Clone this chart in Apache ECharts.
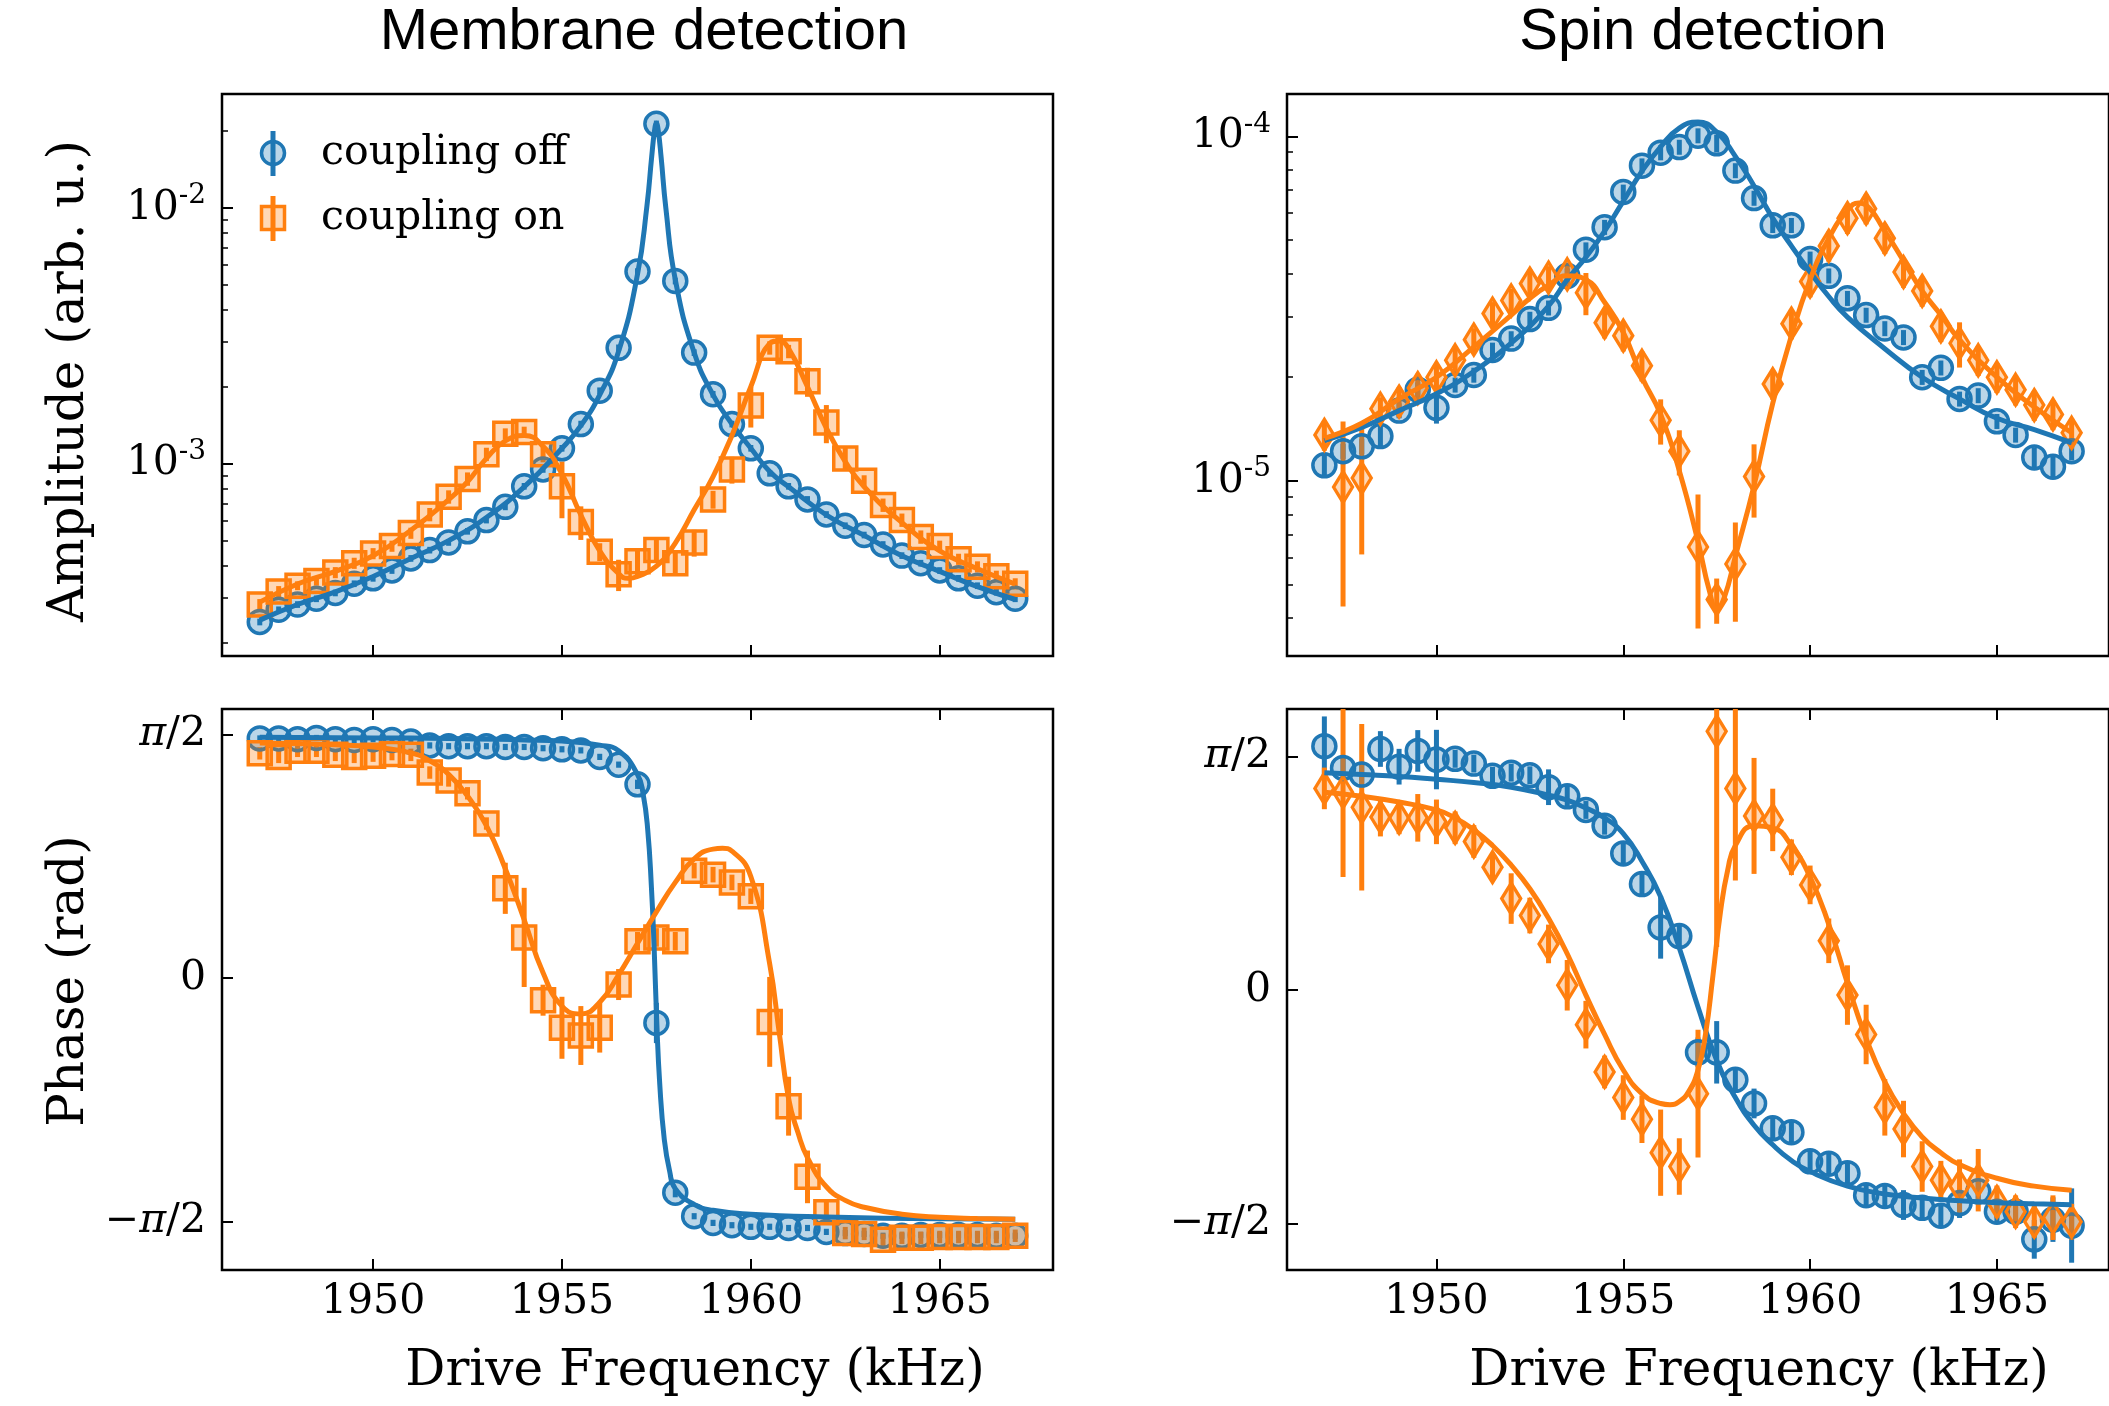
<!DOCTYPE html>
<html>
<head>
<meta charset="utf-8">
<script src="https://cdn.jsdelivr.net/npm/echarts@6/dist/echarts.min.js"></script>
<style>
html, body { margin: 0; padding: 0; background: #fff; }
#chart { width: 2109px; height: 1406px; }
</style>
</head>
<body>
<div id="chart"></div>
<script>
// drive frequencies (kHz), same for every data set
var freq = [1947, 1947.5, 1948, 1948.5, 1949, 1949.5, 1950, 1950.5, 1951, 1951.5,
    1952, 1952.5, 1953, 1953.5, 1954, 1954.5, 1955, 1955.5, 1956, 1956.5,
    1957, 1957.5, 1958, 1958.5, 1959, 1959.5, 1960, 1960.5, 1961, 1961.5,
    1962, 1962.5, 1963, 1963.5, 1964, 1964.5, 1965, 1965.5, 1966, 1966.5, 1967];
var xTicks = [1950, 1955, 1960, 1965];

// membrane detection, amplitude (arb. u.) + relative errors
var memAmpOff = [2.41e-4, 2.69e-4, 2.82e-4, 2.97e-4, 3.13e-4, 3.40e-4, 3.57e-4, 3.83e-4, 4.27e-4, 4.60e-4,
    4.93e-4, 5.45e-4, 6.03e-4, 6.79e-4, 8.17e-4, 9.51e-4, 1.15e-3, 1.43e-3, 1.93e-3, 2.84e-3,
    5.64e-3, 2.13e-2, 5.18e-3, 2.72e-3, 1.87e-3, 1.43e-3, 1.15e-3, 9.18e-4, 8.17e-4, 7.26e-4,
    6.34e-4, 5.73e-4, 5.27e-4, 4.84e-4, 4.38e-4, 4.09e-4, 3.83e-4, 3.57e-4, 3.34e-4, 3.15e-4, 2.97e-4];
var memAmpOffErr = [0.03, 0.03, 0.03, 0.03, 0.03, 0.03, 0.03, 0.03, 0.03, 0.03,
    0.03, 0.03, 0.03, 0.03, 0.03, 0.03, 0.03, 0.03, 0.03, 0.03,
    0.03, 0.03, 0.03, 0.03, 0.03, 0.03, 0.03, 0.03, 0.03, 0.03,
    0.03, 0.03, 0.03, 0.03, 0.03, 0.03, 0.03, 0.03, 0.03, 0.03, 0.03];
var memAmpOn = [2.82e-4, 3.17e-4, 3.34e-4, 3.48e-4, 3.76e-4, 4.09e-4, 4.46e-4, 4.77e-4, 5.36e-4, 6.34e-4,
    7.43e-4, 8.73e-4, 1.09e-3, 1.31e-3, 1.33e-3, 1.09e-3, 8.17e-4, 5.93e-4, 4.53e-4, 3.70e-4,
    4.16e-4, 4.60e-4, 4.09e-4, 4.93e-4, 7.26e-4, 9.51e-4, 1.69e-3, 2.84e-3, 2.75e-3, 2.10e-3,
    1.45e-3, 1.05e-3, 8.59e-4, 6.90e-4, 6.03e-4, 5.18e-4, 4.77e-4, 4.24e-4, 3.96e-4, 3.64e-4, 3.40e-4];
var memAmpOnErr = [0.05, 0.05, 0.04, 0.04, 0.05, 0.05, 0.05, 0.05, 0.05, 0.06,
    0.06, 0.06, 0.06, 0.05, 0.05, 0.07, 0.25, 0.15, 0.08, 0.14,
    0.12, 0.1, 0.1, 0.12, 0.08, 0.12, 0.18, 0.06, 0.06, 0.13,
    0.17, 0.1, 0.05, 0.06, 0.06, 0.06, 0.05, 0.05, 0.05, 0.05, 0.05];

// membrane detection, phase (rad) + errors (rad)
var memPhaseOff = [1.545, 1.545, 1.540, 1.548, 1.540, 1.535, 1.540, 1.535, 1.525, 1.500,
    1.495, 1.495, 1.495, 1.490, 1.490, 1.482, 1.475, 1.468, 1.426, 1.376,
    1.249, -0.291, -1.386, -1.538, -1.581, -1.596, -1.606, -1.606, -1.614, -1.614,
    -1.639, -1.647, -1.652, -1.664, -1.664, -1.659, -1.659, -1.659, -1.659, -1.664, -1.664];
var memPhaseOffErr = [0.02, 0.02, 0.02, 0.02, 0.02, 0.02, 0.02, 0.02, 0.02, 0.02,
    0.02, 0.02, 0.02, 0.02, 0.02, 0.02, 0.02, 0.02, 0.02, 0.02,
    0.03, 0.13, 0.03, 0.02, 0.02, 0.02, 0.02, 0.02, 0.02, 0.02,
    0.02, 0.02, 0.02, 0.02, 0.02, 0.02, 0.02, 0.02, 0.02, 0.02, 0.02];
var memPhaseOn = [1.449, 1.426, 1.465, 1.465, 1.439, 1.426, 1.434, 1.444, 1.439, 1.325,
    1.274, 1.191, 0.996, 0.578, 0.261, -0.144, -0.322, -0.372, -0.322, -0.043,
    0.236, 0.261, 0.236, 0.692, 0.666, 0.616, 0.527, -0.284, -0.828, -1.284,
    -1.512, -1.647, -1.652, -1.690, -1.677, -1.677, -1.672, -1.672, -1.672, -1.672, -1.664];
var memPhaseOnErr = [0.04, 0.04, 0.04, 0.04, 0.04, 0.04, 0.04, 0.04, 0.04, 0.04,
    0.04, 0.04, 0.04, 0.165, 0.32, 0.1, 0.2, 0.19, 0.16, 0.1,
    0.06, 0.06, 0.06, 0.05, 0.05, 0.05, 0.05, 0.29, 0.19, 0.17,
    0.08, 0.04, 0.04, 0.04, 0.04, 0.04, 0.04, 0.04, 0.04, 0.04, 0.04];

// spin detection, amplitude + relative errors
var spinAmpOff = [1.11e-5, 1.22e-5, 1.26e-5, 1.35e-5, 1.60e-5, 1.84e-5, 1.63e-5, 1.90e-5, 2.03e-5, 2.40e-5,
    2.59e-5, 2.95e-5, 3.18e-5, 3.94e-5, 4.69e-5, 5.45e-5, 6.90e-5, 8.22e-5, 8.97e-5, 9.31e-5,
    1.005e-4, 9.55e-5, 7.96e-5, 6.62e-5, 5.52e-5, 5.52e-5, 4.41e-5, 3.94e-5, 3.39e-5, 3.03e-5,
    2.77e-5, 2.61e-5, 2.00e-5, 2.13e-5, 1.73e-5, 1.77e-5, 1.49e-5, 1.36e-5, 1.17e-5, 1.10e-5, 1.22e-5];
var spinAmpOffErr = [0.08, 0.05, 0.05, 0.08, 0.05, 0.05, 0.1, 0.05, 0.05, 0.05,
    0.05, 0.05, 0.05, 0.05, 0.05, 0.05, 0.05, 0.05, 0.05, 0.05,
    0.05, 0.06, 0.05, 0.05, 0.05, 0.05, 0.05, 0.05, 0.05, 0.05,
    0.05, 0.05, 0.05, 0.05, 0.05, 0.05, 0.05, 0.05, 0.07, 0.08, 0.06];
var spinAmpOn = [1.36e-5, 9.6e-6, 1.02e-5, 1.62e-5, 1.70e-5, 1.86e-5, 2.00e-5, 2.24e-5, 2.57e-5, 3.06e-5,
    3.34e-5, 3.74e-5, 3.89e-5, 3.98e-5, 3.52e-5, 2.88e-5, 2.64e-5, 2.16e-5, 1.50e-5, 1.22e-5,
    6.43e-6, 4.53e-6, 5.74e-6, 1.03e-5, 1.91e-5, 2.86e-5, 3.79e-5, 4.81e-5, 5.79e-5, 6.17e-5,
    5.06e-5, 4.04e-5, 3.56e-5, 2.81e-5, 2.51e-5, 2.24e-5, 2.00e-5, 1.84e-5, 1.66e-5, 1.56e-5, 1.38e-5];
var spinAmpOnErr = [0.1, 0.55, 0.4, 0.08, 0.1, 0.1, 0.1, 0.1, 0.08, 0.08,
    0.08, 0.1, 0.08, 0.08, 0.14, 0.1, 0.1, 0.1, 0.15, 0.15,
    0.42, 0.15, 0.32, 0.24, 0.1, 0.1, 0.1, 0.1, 0.1, 0.1,
    0.1, 0.1, 0.1, 0.1, 0.15, 0.1, 0.1, 0.1, 0.1, 0.1, 0.1];

// spin detection, phase (rad) + errors
var spinPhaseOff = [1.640, 1.494, 1.449, 1.621, 1.502, 1.608, 1.550, 1.555, 1.523, 1.441,
    1.462, 1.444, 1.364, 1.303, 1.211, 1.105, 0.919, 0.713, 0.421, 0.363,
    -0.419, -0.419, -0.604, -0.763, -0.930, -0.956, -1.152, -1.168, -1.232, -1.380,
    -1.385, -1.446, -1.465, -1.518, -1.433, -1.354, -1.491, -1.491, -1.677, -1.544, -1.584];
var spinPhaseOffErr = [0.2, 0.08, 0.08, 0.12, 0.12, 0.14, 0.2, 0.06, 0.06, 0.06,
    0.06, 0.06, 0.12, 0.08, 0.06, 0.06, 0.08, 0.08, 0.21, 0.08,
    0.1, 0.21, 0.08, 0.1, 0.08, 0.08, 0.08, 0.08, 0.08, 0.08,
    0.08, 0.1, 0.08, 0.08, 0.1, 0.08, 0.08, 0.08, 0.13, 0.15, 0.25];
var spinPhaseOn = [1.356, 1.330, 1.229, 1.163, 1.158, 1.158, 1.131, 1.091, 0.999, 0.826,
    0.615, 0.501, 0.310, 0.032, -0.233, -0.551, -0.723, -0.869, -1.094, -1.187,
    -0.697, 1.740, 1.356, 1.171, 1.144, 0.893, 0.707, 0.331, -0.034, -0.299,
    -0.789, -0.935, -1.187, -1.279, -1.319, -1.279, -1.425, -1.491, -1.558, -1.531, -1.558];
var spinPhaseOnErr = [0.14, 0.57, 0.56, 0.13, 0.11, 0.16, 0.15, 0.11, 0.11, 0.09,
    0.17, 0.12, 0.13, 0.17, 0.16, 0.11, 0.15, 0.16, 0.29, 0.19,
    0.43, 1.45, 0.62, 0.39, 0.21, 0.12, 0.13, 0.15, 0.2, 0.2,
    0.19, 0.19, 0.17, 0.13, 0.18, 0.21, 0.11, 0.11, 0.11, 0.15, 0.12];

// fit curves as [kHz, value]
var memAmpOffFit = [[1947, 2.45e-4], [1948, 2.82e-4], [1949, 3.16e-4], [1950, 3.63e-4], [1951, 4.27e-4],
    [1952, 5.01e-4], [1953, 6.17e-4], [1954, 8.13e-4], [1955, 1.15e-3], [1955.5, 1.41e-3],
    [1956, 1.86e-3], [1956.5, 2.75e-3], [1957, 5.50e-3], [1957.25, 1.02e-2], [1957.375, 1.58e-2],
    [1957.45, 2.00e-2], [1957.5, 2.14e-2], [1957.55, 2.00e-2], [1957.625, 1.58e-2], [1957.75, 1.00e-2],
    [1958, 5.25e-3], [1958.5, 2.72e-3], [1959, 1.86e-3], [1959.5, 1.43e-3], [1960, 1.15e-3],
    [1960.5, 9.33e-4], [1961, 8.13e-4], [1962, 6.31e-4], [1963, 5.25e-4], [1964, 4.37e-4],
    [1965, 3.80e-4], [1966, 3.31e-4], [1967, 2.95e-4]];
var memAmpOnFit = [[1947, 2.88e-4], [1948, 3.39e-4], [1949, 3.80e-4], [1950, 4.37e-4], [1951, 5.50e-4],
    [1952, 7.24e-4], [1952.5, 8.51e-4], [1953, 1.05e-3], [1953.5, 1.23e-3], [1954, 1.29e-3],
    [1954.5, 1.17e-3], [1955, 9.12e-4], [1955.5, 6.31e-4], [1956, 4.57e-4], [1956.5, 3.72e-4],
    [1956.75, 3.57e-4], [1957, 3.63e-4], [1957.5, 3.98e-4], [1958, 4.90e-4], [1958.5, 6.61e-4],
    [1959, 8.91e-4], [1959.5, 1.29e-3], [1960, 2.00e-3], [1960.5, 2.95e-3], [1960.75, 3.02e-3],
    [1961, 2.82e-3], [1961.5, 2.00e-3], [1962, 1.38e-3], [1962.5, 1.02e-3], [1963, 8.13e-4],
    [1964, 5.89e-4], [1965, 4.57e-4], [1966, 3.89e-4], [1967, 3.39e-4]];
var memPhaseOffFit = [[1947, 1.552], [1950, 1.548], [1952, 1.545], [1954, 1.535], [1955, 1.528],
    [1956, 1.502], [1956.5, 1.465], [1957, 1.313], [1957.15, 1.185], [1957.27, 0.958],
    [1957.37, 0.578], [1957.44, 0.198], [1957.51, -0.284], [1957.59, -0.689], [1957.71, -1.044],
    [1957.85, -1.246], [1958, -1.36], [1958.5, -1.462], [1959, -1.5], [1960, -1.525],
    [1962, -1.543], [1965, -1.555], [1967, -1.557]];
var memPhaseOnFit = [[1947, 1.515], [1949, 1.505], [1950, 1.49], [1951, 1.452], [1951.5, 1.401],
    [1952, 1.313], [1952.5, 1.173], [1953, 0.983], [1953.5, 0.704], [1954, 0.375],
    [1954.5, 0.033], [1955, -0.182], [1955.5, -0.233], [1956, -0.157], [1956.5, 0.02],
    [1957, 0.223], [1957.5, 0.426], [1958, 0.616], [1958.5, 0.768], [1959, 0.831],
    [1959.25, 0.836], [1959.5, 0.818], [1960, 0.654], [1960.5, 0.09], [1960.75, -0.35],
    [1961, -0.78], [1961.25, -1.0], [1961.5, -1.16], [1962, -1.348], [1962.5, -1.436],
    [1963, -1.48], [1964, -1.525], [1965, -1.545], [1966, -1.553], [1967, -1.558]];
var spinAmpOffFit = [[1947, 1.31e-5], [1948, 1.43e-5], [1949, 1.60e-5], [1950, 1.79e-5], [1951, 2.08e-5],
    [1952, 2.51e-5], [1953, 3.22e-5], [1953.5, 3.84e-5], [1954, 4.46e-5], [1954.5, 5.31e-5],
    [1955, 6.49e-5], [1955.5, 7.92e-5], [1956, 9.33e-5], [1956.5, 1.057e-4], [1957, 1.10e-4],
    [1957.5, 1.03e-4], [1958, 8.75e-5], [1958.5, 7.18e-5], [1959, 5.79e-5], [1959.5, 4.81e-5],
    [1960, 4.04e-5], [1960.5, 3.43e-5], [1961, 2.99e-5], [1962, 2.42e-5], [1963, 2.00e-5],
    [1964, 1.73e-5], [1965, 1.52e-5], [1966, 1.41e-5], [1967, 1.29e-5]];
var spinAmpOnFit = [[1947, 1.33e-5], [1948, 1.47e-5], [1949, 1.73e-5], [1950, 2.00e-5], [1951, 2.45e-5],
    [1952, 3.03e-5], [1952.5, 3.39e-5], [1953, 3.70e-5], [1953.5, 3.94e-5], [1954, 3.84e-5],
    [1954.5, 3.30e-5], [1955, 2.70e-5], [1955.5, 2.00e-5], [1956, 1.56e-5], [1956.5, 1.07e-5],
    [1957, 6.67e-6], [1957.3, 4.82e-6], [1957.5, 4.26e-6], [1957.7, 4.58e-6], [1958, 6.04e-6],
    [1958.5, 9.70e-6], [1959, 1.68e-5], [1959.5, 2.64e-5], [1960, 3.84e-5], [1960.5, 5.06e-5],
    [1961, 6.10e-5], [1961.3, 6.41e-5], [1961.5, 6.32e-5], [1962, 5.31e-5], [1962.5, 4.35e-5],
    [1963, 3.56e-5], [1963.5, 3.03e-5], [1964, 2.57e-5], [1965, 2.00e-5], [1966, 1.64e-5], [1967, 1.38e-5]];
var spinPhaseOffFit = [[1947, 1.462], [1948, 1.449], [1949, 1.436], [1950, 1.417], [1951, 1.396],
    [1952, 1.364], [1953, 1.311], [1953.5, 1.277], [1954, 1.224], [1954.5, 1.158],
    [1955, 1.052], [1955.5, 0.866], [1956, 0.628], [1956.5, 0.283], [1957, -0.114],
    [1957.5, -0.472], [1958, -0.723], [1958.5, -0.909], [1959, -1.041], [1959.5, -1.147],
    [1960, -1.221], [1961, -1.319], [1962, -1.372], [1963, -1.399], [1964, -1.417],
    [1965, -1.43], [1966, -1.438], [1967, -1.444]];
var spinPhaseOnFit = [[1947, 1.33], [1948, 1.303], [1949, 1.264], [1950, 1.211], [1950.5, 1.158],
    [1951, 1.078], [1951.5, 0.972], [1952, 0.84], [1952.5, 0.681], [1953, 0.482],
    [1953.5, 0.244], [1954, -0.034], [1954.5, -0.299], [1955, -0.538], [1955.5, -0.697],
    [1956, -0.763], [1956.25, -0.771], [1956.5, -0.75], [1956.75, -0.683], [1957, -0.538],
    [1957.2, -0.299], [1957.4, 0.098], [1957.6, 0.522], [1957.8, 0.813], [1958, 0.972],
    [1958.5, 1.105], [1959, 1.091], [1959.5, 0.972], [1960, 0.76], [1960.5, 0.442],
    [1961, 0.045], [1961.5, -0.326], [1962, -0.617], [1962.5, -0.829], [1963, -0.988],
    [1963.5, -1.094], [1964, -1.174], [1965, -1.266], [1966, -1.319], [1967, -1.346]];

var SERIF = 'DejaVu Serif';
var BLUE = '#1f77b4', ORANGE = '#ff7f0e';
var BLUE_FILL = 'rgba(31,119,180,0.3)', ORANGE_FILL = 'rgba(255,127,14,0.3)';

var tickStyle = {color: '#000', width: 2};

function xAxisFor(grid, pos, labels) {
    return {
        type: 'value', gridIndex: grid, position: pos, min: 1946, max: 1968,
        axisLine: {show: false, onZero: false},
        splitLine: {show: false},
        axisTick: {show: true, inside: true, length: 11, customValues: xTicks, lineStyle: tickStyle},
        axisLabel: {show: labels, customValues: xTicks, margin: 12, color: '#000',
            fontFamily: SERIF, fontSize: 41,
            formatter: function (v) { return String(Math.round(v)); }}
    };
}

function minorLogTicks(lo, hi) {
    var out = [];
    for (var e = Math.floor(lo); e <= Math.ceil(hi); e++) {
        for (var k = 2; k <= 9; k++) {
            var v = e + Math.log10(k);
            if (v > lo && v < hi) out.push(v);
        }
    }
    return out;
}

// log amplitude axis: a labelled one for decades and a bare one for the minor ticks
function logAxes(grid, lo, hi, decades) {
    return [{
        type: 'value', gridIndex: grid, position: 'left', min: lo, max: hi,
        axisLine: {show: false, onZero: false},
        splitLine: {show: false},
        axisTick: {inside: true, length: 11, customValues: decades, lineStyle: tickStyle},
        axisLabel: {
            customValues: decades, margin: 16,
            formatter: function (v) { return '{m|10}{s|' + Math.round(v) + '}'; },
            rich: {
                m: {fontFamily: SERIF, fontSize: 41, color: '#000', lineHeight: 52},
                s: {fontFamily: SERIF, fontSize: 28, color: '#000', lineHeight: 26, verticalAlign: 'top'}
            }
        }
    }, {
        type: 'value', gridIndex: grid, position: 'left', min: lo, max: hi,
        axisLine: {show: false, onZero: false},
        splitLine: {show: false},
        axisLabel: {show: false},
        axisTick: {inside: true, length: 6, customValues: minorLogTicks(lo, hi),
            lineStyle: {color: '#000', width: 1.5}}
    }];
}

function phaseAxis(grid, lo, hi) {
    var ticks = [-Math.PI / 2, 0, Math.PI / 2];
    return {
        type: 'value', gridIndex: grid, position: 'left', min: lo, max: hi,
        axisLine: {show: false, onZero: false},
        splitLine: {show: false},
        axisTick: {inside: true, length: 11, customValues: ticks, lineStyle: tickStyle},
        axisLabel: {
            customValues: ticks, margin: 16, color: '#000', fontFamily: SERIF, fontSize: 41,
            formatter: function (v) {
                if (Math.abs(v) < 1e-6) return '0';
                return (v < 0 ? '\u2212' : '') + '{p|\u03c0}/2';
            },
            rich: {p: {fontFamily: SERIF, fontStyle: 'italic', fontSize: 41, color: '#000'}}
        }
    };
}

function errRender(color) {
    return function (params, api) {
        var a = api.coord([api.value(0), api.value(1)]);
        var b = api.coord([api.value(0), api.value(2)]);
        return {
            type: 'line',
            shape: {x1: a[0], y1: a[1], x2: b[0], y2: b[1]},
            style: {stroke: color, lineWidth: 5}
        };
    };
}

function dataSeries(xi, yi, vals, errs, isLog, color, fill, symbol, size) {
    var pts = [], bars = [];
    for (var i = 0; i < freq.length; i++) {
        var v = vals[i];
        if (isLog) {
            var low = v * (1 - errs[i]);
            pts.push([freq[i], Math.log10(v)]);
            bars.push([freq[i], low > 0 ? Math.log10(low) : -20, Math.log10(v * (1 + errs[i]))]);
        } else {
            pts.push([freq[i], v]);
            bars.push([freq[i], v - errs[i], v + errs[i]]);
        }
    }
    return [{
        type: 'custom', xAxisIndex: xi, yAxisIndex: yi, clip: true, z: 2,
        renderItem: errRender(color), encode: {x: 0, y: [1, 2]}, data: bars, silent: true
    }, {
        type: 'scatter', xAxisIndex: xi, yAxisIndex: yi, z: 3, symbol: symbol, symbolSize: size,
        itemStyle: {color: fill, borderColor: color, borderWidth: 3.5, opacity: 1},
        emphasis: {disabled: true}, data: pts, silent: true
    }];
}

function fitSeries(xi, yi, fit, isLog, color) {
    var d = fit.map(function (p) { return [p[0], isLog ? Math.log10(p[1]) : p[1]]; });
    return {
        type: 'line', xAxisIndex: xi, yAxisIndex: yi, z: 4, data: d, showSymbol: false,
        symbol: 'none', smooth: 0.5, clip: true,
        lineStyle: {color: color, width: 5}, emphasis: {disabled: true}, silent: true
    };
}

var memAmpRange = [-3.751, -1.555];
var spinAmpRange = [-5.508, -3.877];

var grids = [
    {left: 222, top: 94, width: 831, height: 562},
    {left: 222, top: 709, width: 831, height: 561},
    {left: 1287, top: 94, width: 831, height: 562},
    {left: 1287, top: 709, width: 831, height: 561}
].map(function (g) {
    g.show = true; g.borderColor = '#000'; g.borderWidth = 2.5; g.backgroundColor = 'transparent';
    return g;
});

var xAxes = [
    xAxisFor(0, 'bottom', false),
    xAxisFor(1, 'bottom', true),
    xAxisFor(1, 'top', false),
    xAxisFor(2, 'bottom', false),
    xAxisFor(3, 'bottom', true),
    xAxisFor(3, 'top', false)
];

var yAxes = [].concat(
    logAxes(0, memAmpRange[0], memAmpRange[1], [-3, -2]),
    [phaseAxis(1, -1.885, 1.735)],
    logAxes(2, spinAmpRange[0], spinAmpRange[1], [-5, -4]),
    [phaseAxis(3, -1.883, 1.89)]
);

var series = [].concat(
    dataSeries(0, 0, memAmpOff, memAmpOffErr, true, BLUE, BLUE_FILL, 'circle', 23),
    dataSeries(0, 0, memAmpOn, memAmpOnErr, true, ORANGE, ORANGE_FILL, 'rect', 23),
    [fitSeries(0, 0, memAmpOffFit, true, BLUE), fitSeries(0, 0, memAmpOnFit, true, ORANGE)],

    dataSeries(1, 2, memPhaseOff, memPhaseOffErr, false, BLUE, BLUE_FILL, 'circle', 23),
    dataSeries(1, 2, memPhaseOn, memPhaseOnErr, false, ORANGE, ORANGE_FILL, 'rect', 23),
    [fitSeries(1, 2, memPhaseOffFit, false, BLUE), fitSeries(1, 2, memPhaseOnFit, false, ORANGE)],

    dataSeries(3, 3, spinAmpOff, spinAmpOffErr, true, BLUE, BLUE_FILL, 'circle', 23),
    dataSeries(3, 3, spinAmpOn, spinAmpOnErr, true, ORANGE, ORANGE_FILL, 'diamond', [19, 31]),
    [fitSeries(3, 3, spinAmpOffFit, true, BLUE), fitSeries(3, 3, spinAmpOnFit, true, ORANGE)],

    dataSeries(4, 5, spinPhaseOff, spinPhaseOffErr, false, BLUE, BLUE_FILL, 'circle', 23),
    dataSeries(4, 5, spinPhaseOn, spinPhaseOnErr, false, ORANGE, ORANGE_FILL, 'diamond', [19, 31]),
    [fitSeries(4, 5, spinPhaseOffFit, false, BLUE), fitSeries(4, 5, spinPhaseOnFit, false, ORANGE)]
);

function label(text, x, y, size, family, rot) {
    return {
        type: 'text', x: x, y: y, rotation: rot || 0, z: 10,
        style: {text: text, fill: '#000', font: size + 'px "' + family + '"',
            textAlign: 'center', textVerticalAlign: 'middle'}
    };
}

var graphics = [
    label('Membrane detection', 644, 33, 58, 'Liberation Sans'),
    label('Spin detection', 1703, 33, 58, 'Liberation Sans'),
    label('Drive Frequency (kHz)', 695, 1372, 50, SERIF),
    label('Drive Frequency (kHz)', 1759, 1372, 50, SERIF),
    label('Amplitude (arb. u.)', 70, 381, 50, SERIF, Math.PI / 2),
    label('Phase (rad)', 70, 981, 50, SERIF, Math.PI / 2),
    // legend
    {type: 'line', shape: {x1: 273, y1: 131, x2: 273, y2: 176}, style: {stroke: BLUE, lineWidth: 5}, z: 10},
    {type: 'circle', shape: {cx: 273, cy: 153, r: 11.5}, style: {fill: BLUE_FILL, stroke: BLUE, lineWidth: 3.5}, z: 11},
    {type: 'line', shape: {x1: 273, y1: 196, x2: 273, y2: 241}, style: {stroke: ORANGE, lineWidth: 5}, z: 10},
    {type: 'rect', shape: {x: 261.5, y: 206.5, width: 23, height: 23}, style: {fill: ORANGE_FILL, stroke: ORANGE, lineWidth: 3.5}, z: 11},
    {type: 'text', x: 321, y: 153, z: 11, style: {text: 'coupling off', fill: '#000', font: '41px "DejaVu Serif"', textVerticalAlign: 'middle'}},
    {type: 'text', x: 321, y: 218, z: 11, style: {text: 'coupling on', fill: '#000', font: '41px "DejaVu Serif"', textVerticalAlign: 'middle'}}
];

var chart = echarts.init(document.getElementById('chart'), null, {renderer: 'canvas'});
chart.setOption({
    animation: false,
    backgroundColor: '#fff',
    grid: grids,
    xAxis: xAxes,
    yAxis: yAxes,
    series: series,
    graphic: graphics
});
</script>
</body>
</html>
